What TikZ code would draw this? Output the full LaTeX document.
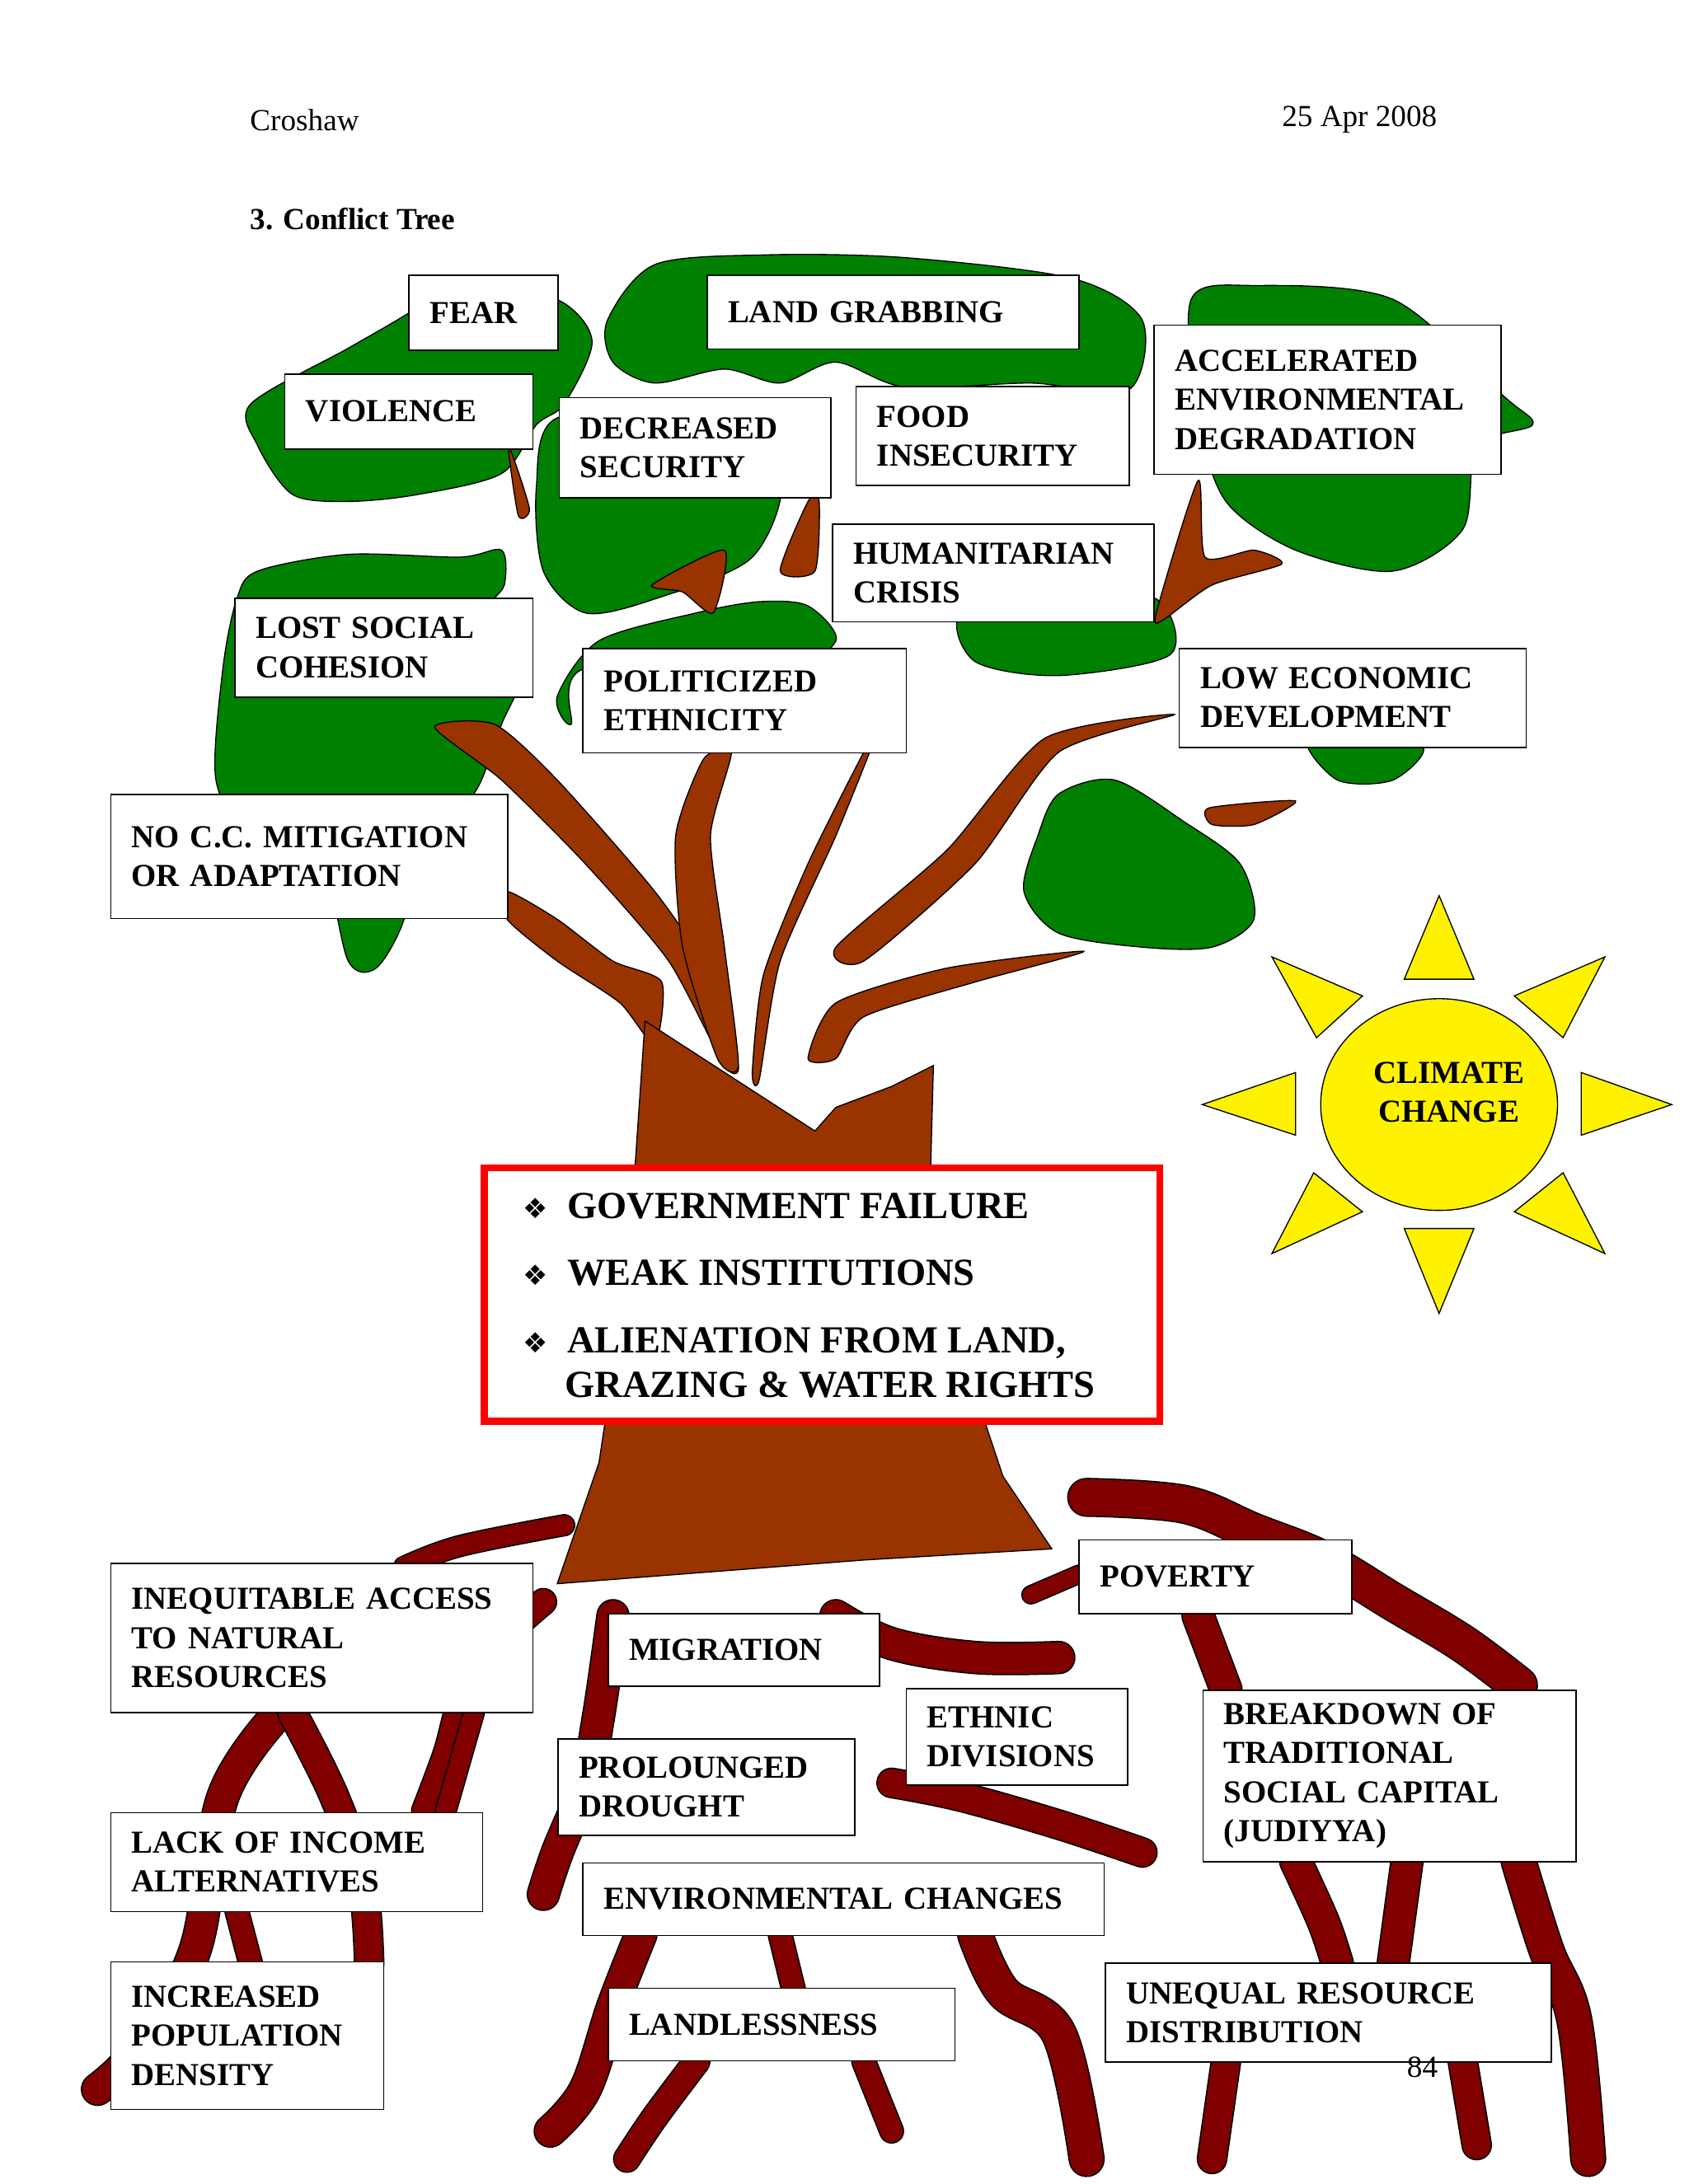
\documentclass[tikz,border=0pt]{standalone}
\usepackage{fontspec}
\usetikzlibrary{shapes.geometric}
\setmainfont{Liberation Serif}
\newfontfamily\djv{DejaVu Sans}
\begin{document}
\begin{tikzpicture}[x=1pt,y=-1pt,
  box/.style={draw=black,fill=white,line width=1pt,inner xsep=15pt,inner ysep=0pt,align=left,font=\bfseries\fontsize{23}{28}\selectfont},
  leaf/.style={fill=green!50!black,draw=black,line width=0.8pt},
  root/.style={draw=black,line width=1pt,double={rgb,255:red,128;green,0;blue,0},double distance=#1,line cap=round,line join=round},
  root/.default=18pt,
  tri/.style={fill=yellow,draw=black,line width=0.8pt}]
\definecolor{trunk}{RGB}{153,51,0}
\tikzset{br/.style={draw=black,line width=0.8pt,fill=trunk}}
\useasboundingbox (0,0) rectangle (1212,1568);
\newcommand\bx[6]{\pgfmathsetmacro\bw{#4-#2}\pgfmathsetmacro\bh{#5-#3}\pgfmathsetmacro\tw{#4-#2-30}%
  \node[box,minimum width=\bw pt,minimum height=\bh pt,text width=\tw pt,anchor=north west] (#1) at (#2,#3) {#6};}
\newcommand\bul{{\normalfont\djv\fontsize{20}{20}\selectfont ❖}}
% header
\node[anchor=west,font=\fontsize{22}{25}\selectfont] (hd1) at (176,86) {Croshaw};
\node[anchor=east,font=\fontsize{22}{25}\selectfont] (hd2) at (1035,86) {25 Apr 2008};
\node[anchor=west,font=\bfseries\fontsize{22}{25}\selectfont] (ttl) at (176,157) {3. Conflict Tree};
% leaves
\path[leaf] plot[smooth cycle,tension=0.5] coordinates{(180,290)(250,250)(293,225)(330,200)(400,215)(425,245)(405,290)(385,305)(360,340)(300,355)(250,360)(210,355)(185,320)};
\path[leaf] plot[smooth cycle,tension=0.5] coordinates{(436,230)(470,190)(550,183)(650,185)(770,200)(820,230)(810,280)(740,275)(650,278)(600,260)(560,275)(520,265)(470,275)(440,260)};
\path[leaf] plot[smooth cycle,tension=0.5] coordinates{(385,350)(400,300)(500,300)(560,340)(540,400)(470,430)(420,440)(390,410)};
\path[leaf] plot[smooth cycle,tension=0.5] coordinates{(855,215)(900,205)(1000,215)(1080,285)(1100,305)(1060,320)(1050,380)(1000,410)(930,395)(880,360)(860,300)};
\path[leaf] plot[smooth cycle,tension=0.5] coordinates{(690,440)(700,475)(760,485)(840,470)(830,430)(760,425)};
\path[leaf] plot[smooth cycle,tension=0.5] coordinates{(400,500)(430,460)(500,440)(545,432)(580,435)(600,460)(560,480)(420,480)(410,520)};
\path[leaf] plot[smooth cycle,tension=0.5] coordinates{(940,530)(1020,535)(1000,560)(960,560)};
\path[leaf] plot[smooth cycle,tension=0.5] coordinates{(185,410)(250,398)(330,400)(360,395)(362,420)(350,440)(380,470)(360,520)(340,570)(300,600)(290,660)(270,695)(250,690)(230,620)(180,600)(155,560)(160,480)(170,430)};
\path[leaf] plot[smooth cycle,tension=0.5] coordinates{(760,570)(800,560)(850,590)(890,620)(900,660)(870,680)(820,680)(760,670)(735,640)(745,600)};
% branches
\path[br] plot[smooth cycle,tension=0.4] coordinates{(312,522)(355,520)(400,560)(470,640)(510,700)(530,765)(520,765)(480,690)(420,620)(360,560)};
\path[br] plot[smooth cycle,tension=0.4] coordinates{(364,640)(400,660)(440,690)(475,705)(470,750)(445,720)(400,690)(364,660)};
\path[br] plot[smooth cycle,tension=0.4] coordinates{(545,775)(560,690)(600,600)(630,525)(620,540)(580,620)(548,700)(540,770)};
\path[br] plot[smooth cycle,tension=0.4] coordinates{(485,600)(505,545)(525,540)(510,600)(520,680)(530,765)(515,760)(490,680)};
\path[br] plot[smooth cycle,tension=0.4] coordinates{(600,680)(680,610)(750,530)(843,513)(760,540)(700,620)(620,690)};
\path[br] plot[smooth cycle,tension=0.4] coordinates{(580,760)(600,720)(680,695)(778,683)(700,705)(620,730)(600,760)};
\path[br] plot[smooth cycle,tension=0.4] coordinates{(468,420)(520,395)(512,440)(490,425)};
\path[br] plot[smooth cycle,tension=0.4] coordinates{(560,410)(580,360)(588,360)(585,410)};
\path[br] plot[smooth cycle,tension=0.4] coordinates{(830,440)(860,345)(865,400)(900,395)(920,405)(870,420)(835,445)};
\path[br] plot[smooth cycle,tension=0.4] coordinates{(365,320)(380,365)(372,370)};
\path[br] plot[smooth cycle,tension=0.4] coordinates{(868,580)(930,575)(900,592)(870,592)};
% roots
\foreach \r/\w in {%
 {(405,1095)(330,1110)(290,1125)}/14pt,
 {(390,1150)(340,1200)(320,1260)(305,1300)}/18pt,
 {(200,1230)(160,1290)(140,1400)(100,1470)(70,1500)}/22pt,
 {(210,1230)(240,1290)(260,1350)(265,1410)}/20pt,
 {(340,1230)(320,1300)}/14pt,
 {(170,1372)(180,1410)}/16pt,
 {(440,1160)(430,1230)(420,1280)(400,1330)(390,1360)}/22pt,
 {(600,1160)(640,1180)(700,1190)(760,1190)}/22pt,
 {(640,1280)(690,1290)(760,1310)(820,1330)}/20pt,
 {(460,1389)(440,1440)(420,1500)(395,1530)}/22pt,
 {(500,1480)(470,1520)(450,1550)}/18pt,
 {(560,1389)(570,1430)}/16pt,
 {(620,1480)(640,1530)}/16pt,
 {(700,1389)(720,1430)(760,1460)(780,1550)}/24pt,
 {(780,1075)(850,1080)(900,1100)(950,1120)(1000,1150)(1050,1180)(1090,1210)}/26pt,
 {(860,1160)(880,1213)}/22pt,
 {(930,1336)(950,1380)(960,1410)}/22pt,
 {(1010,1336)(1000,1410)}/22pt,
 {(1090,1336)(1110,1400)(1130,1450)(1140,1550)}/24pt,
 {(1050,1480)(1060,1540)}/20pt,
 {(880,1480)(870,1550)}/20pt,
 {(775,1130)(740,1145)}/12pt}
 {\draw[root=\w] plot[smooth,tension=0.6] coordinates \r;}
% trunk
\path[br] (463,733)--(585,812)--(600,795)--(640,780)--(670,765)--(668,840)--(700,1000)--(720,1060)--(755,1112)--(620,1120)--(400,1137)--(430,1050)--(445,950)--(455,850)--cycle;
% red box
\node[draw=red,line width=5pt,fill=white,minimum width=485pt,minimum height=182pt,anchor=north west] (core) at (345,836) {};
\begin{scope}[font=\bfseries\fontsize{27.5}{32}\selectfont]
\node[anchor=base west] (b1) at (372,875) {\bul\ \ GOVERNMENT FAILURE};
\node[anchor=base west] (b2) at (372,923) {\bul\ \ WEAK INSTITUTIONS};
\node[anchor=base west] (b3) at (372,971) {\bul\ \ ALIENATION FROM LAND,};
\node[anchor=base west] (b4) at (402,1003) {GRAZING \& WATER RIGHTS};
\end{scope}
% sun
\path[tri] (1008,703)--(1058,703)--(1033,643)--cycle;
\path[tri] (1087,715)--(1152,687)--(1122,745)--cycle;
\path[tri] (1135,770)--(1200,793)--(1135,815)--cycle;
\path[tri] (1087,870)--(1122,842)--(1152,900)--cycle;
\path[tri] (1008,882)--(1058,882)--(1033,943)--cycle;
\path[tri] (913,900)--(943,842)--(978,870)--cycle;
\path[tri] (863,793)--(930,770)--(930,815)--cycle;
\path[tri] (913,687)--(978,715)--(945,745)--cycle;
\node[draw=black,fill=yellow,line width=0.8pt,ellipse,minimum width=170pt,minimum height=152pt] (sun) at (1033,793) {};
\node[align=center,font=\bfseries\fontsize{23}{28}\selectfont] (sunt) at (1040,784) {CLIMATE\\CHANGE};
% boxes
\bx{fear}{293}{197}{400}{251}{FEAR}
\bx{land}{507}{197}{774}{250}{LAND GRABBING}
\bx{viol}{204}{268}{382}{322}{VIOLENCE}
\bx{decr}{401}{285}{596}{357}{DECREASED\\SECURITY}
\bx{food}{614}{277}{810}{348}{FOOD\\INSECURITY}
\bx{acc}{828}{233}{1077}{340}{ACCELERATED\\ENVIRONMENTAL\\DEGRADATION}
\bx{hum}{597}{376}{828}{446}{HUMANITARIAN\\CRISIS}
\bx{lost}{168}{429}{382}{500}{LOST SOCIAL\\COHESION}
\bx{pol}{418}{465}{650}{540}{POLITICIZED\\ETHNICITY}
\bx{low}{846}{465}{1095}{536}{LOW ECONOMIC\\DEVELOPMENT}
\bx{nocc}{79}{570}{364}{659}{NO C.C. MITIGATION\\OR ADAPTATION}
\bx{ineq}{79}{1122}{382}{1229}{INEQUITABLE ACCESS\\TO NATURAL\\RESOURCES}
\bx{pov}{774}{1105}{970}{1158}{POVERTY}
\bx{mig}{436}{1158}{631}{1210}{MIGRATION}
\bx{eth}{650}{1212}{809}{1281}{ETHNIC\\DIVISIONS}
\bx{drou}{400}{1248}{613}{1317}{PROLOUNGED\\DROUGHT}
\bx{brk}{863}{1213}{1131}{1336}{BREAKDOWN OF\\TRADITIONAL\\SOCIAL CAPITAL\\(JUDIYYA)}
\bx{lack}{79}{1301}{346}{1372}{LACK OF INCOME\\ALTERNATIVES}
\bx{env}{418}{1337}{792}{1389}{ENVIRONMENTAL CHANGES}
\bx{incp}{79}{1408}{275}{1514}{INCREASED\\POPULATION\\DENSITY}
\bx{lndl}{436}{1427}{685}{1479}{LANDLESSNESS}
\bx{uneq}{793}{1409}{1113}{1480}{UNEQUAL RESOURCE\\DISTRIBUTION}
\node[font=\fontsize{22}{25}\selectfont] (pg) at (1021,1484) {84};
\end{tikzpicture}
\end{document}
